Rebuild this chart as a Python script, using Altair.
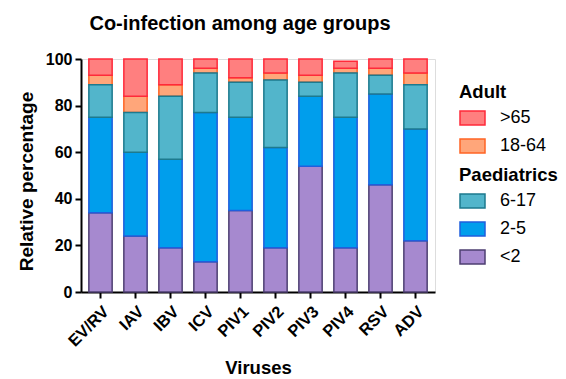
import altair as alt
import pandas as pd

viruses = ["EV/RV", "IAV", "IBV", "ICV", "PIV1", "PIV2", "PIV3", "PIV4", "RSV", "ADV"]
lt2 = [34, 24, 19, 13, 35, 19, 54, 19, 46, 22]
age2_5 = [41, 36, 38, 64, 40, 43, 30, 56, 39, 48]
age6_17 = [14, 17, 27, 17, 15, 29, 6, 19, 8, 19]
age18_64 = [4, 7, 5, 2, 2, 3, 3, 2, 3, 5]
gt65 = [7, 16, 11, 4, 8, 6, 7, 3, 4, 6]

ages = ["<2", "2-5", "6-17", "18-64", ">65"]
groups = ["Paediatrics", "Paediatrics", "Paediatrics", "Adult", "Adult"]
series = [lt2, age2_5, age6_17, age18_64, gt65]

fills = {"<2": "#A689CF", "2-5": "#009EEC", "6-17": "#52B5CB", "18-64": "#FFA67A", ">65": "#FF7F7F"}
strokes = {"<2": "#4E3F72", "2-5": "#1F5FDD", "6-17": "#1D7A8E", "18-64": "#FF6424", ">65": "#FF2A3A"}

rows = []
for i, (age, grp, vals) in enumerate(zip(ages, groups, series)):
    for v, val in zip(viruses, vals):
        rows.append({"virus": v, "age": age, "group": grp, "order": i, "value": val})
df = pd.DataFrame(rows)

FONT = "Liberation Sans"
rect = "M-1,-0.56 H1 V0.56 H-1 Z"

base = alt.Chart(df).transform_stack(
    stack="value", groupby=["virus"], as_=["y0", "y1"],
    sort=[alt.SortField("order", "ascending")]
)

xenc = alt.X("virus:N", sort=viruses, title="Viruses",
             scale=alt.Scale(paddingInner=0.334, paddingOuter=0.224),
             axis=alt.Axis(labelAngle=-45, labelFont=FONT, labelFontSize=16.5, labelFontWeight="bold",
                           labelColor="black", titleFont=FONT, titleFontSize=18.5, titleFontWeight="bold",
                           titleColor="black", tickSize=6, tickWidth=2, tickColor="black",
                           domainWidth=2, domainColor="black", titlePadding=9, labelPadding=5))
yenc = alt.Y("y0:Q", title="Relative percentage",
             scale=alt.Scale(domain=[0, 100], nice=False),
             axis=alt.Axis(values=[0, 20, 40, 60, 80, 100], grid=False, labelFont=FONT, labelFontSize=16,
                           labelFontWeight="bold", labelColor="black", titleFont=FONT, titleFontSize=19,
                           titleFontWeight="bold", titleColor="black", tickSize=6, tickWidth=2,
                           tickColor="black", domainWidth=2, domainColor="black", labelPadding=3,
                           titlePadding=9, titleY=122))


def layer(grp, dom, lx, ly):
    leg = alt.Legend(title=grp, orient="none", legendX=lx, legendY=ly, symbolType=rect, symbolSize=625,
                     symbolStrokeWidth=1.5, symbolOpacity=1, labelFont=FONT, labelFontSize=18,
                     labelColor="black", titleFont=FONT, titleFontSize=18.5, titleFontWeight="bold",
                     titleColor="black", labelOffset=14, rowPadding=4, titlePadding=3, padding=0)
    return base.transform_filter(alt.datum.group == grp).mark_bar(strokeWidth=1.5, opacity=1).encode(
        x=xenc,
        y=yenc,
        y2="y1:Q",
        color=alt.Color("age:N", sort=dom, scale=alt.Scale(domain=dom, range=[fills[a] for a in dom]),
                        legend=leg),
        stroke=alt.Stroke("age:N", sort=dom, scale=alt.Scale(domain=dom, range=[strokes[a] for a in dom]),
                          legend=leg),
    )


adult = layer("Adult", [">65", "18-64"], 378, 24)
paed = layer("Paediatrics", ["6-17", "2-5", "<2"], 378, 107)

chart = alt.layer(adult, paed).resolve_scale(color="independent", stroke="independent").properties(
    width=354, height=233,
    autosize=alt.AutoSizeParams(type="none"),
    padding={"left": 81, "top": 59, "right": 131, "bottom": 87},
    title=alt.TitleParams("Co-infection among age groups", font=FONT, fontSize=20, fontWeight="bold",
                          color="black", anchor="middle", dx=-18, dy=29, frame="group", baseline="alphabetic",
                          offset=30),
).configure_view(stroke=None).configure(background="white")

chart.save("out.html", embed_options={"renderer": "svg", "actions": False})
